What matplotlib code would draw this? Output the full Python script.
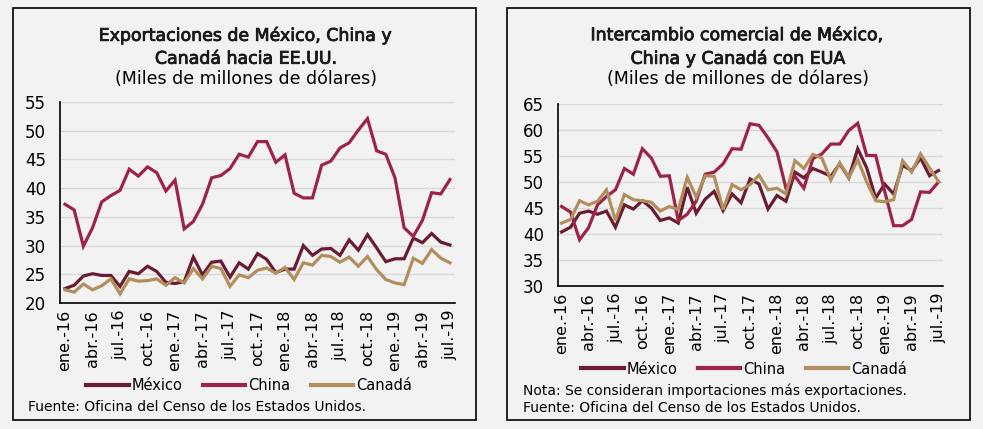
import matplotlib
matplotlib.use('Agg')
import matplotlib.pyplot as plt
import matplotlib.patheffects as pe
from matplotlib.patches import Rectangle

plt.rcParams['font.family'] = ['DejaVu Sans']

# meses ene-2016 .. jul-2019
meses = list(range(43))
etiquetas = ['ene.-16', 'abr.-16', 'jul.-16', 'oct.-16', 'ene.-17', 'abr.-17', 'jul.-17', 'oct.-17',
             'ene.-18', 'abr.-18', 'jul.-18', 'oct.-18', 'ene.-19', 'abr.-19', 'jul.-19']

# Exportaciones hacia EE.UU.
exp_mexico = [22.5, 23.1, 24.7, 25.1, 24.8, 24.8, 22.9, 25.5, 25.1, 26.4, 25.5, 23.6, 23.4, 23.7,
              28.0, 24.9, 27.1, 27.3, 24.5, 27.0, 25.9, 28.6, 27.6, 25.3, 25.9, 25.9, 30.0, 28.3,
              29.4, 29.5, 28.3, 31.0, 29.2, 31.9, 29.6, 27.2, 27.7, 27.7, 31.3, 30.5, 32.1, 30.6, 30.1]
exp_china = [37.2, 36.2, 29.9, 33.1, 37.6, 38.7, 39.6, 43.3, 42.1, 43.7, 42.7, 39.5, 41.4, 32.9,
             34.2, 37.2, 41.8, 42.2, 43.4, 45.9, 45.4, 48.1, 48.1, 44.5, 45.8, 39.1, 38.3, 38.3,
             44.0, 44.7, 47.0, 47.9, 50.1, 52.1, 46.5, 45.9, 41.8, 33.1, 31.6, 34.4, 39.2, 39.0, 41.5]
exp_canada = [22.3, 21.9, 23.3, 22.3, 23.0, 24.2, 21.6, 24.2, 23.8, 23.9, 24.2, 23.1, 24.4, 23.5,
              26.0, 24.2, 26.4, 26.0, 22.9, 24.9, 24.4, 25.7, 26.1, 25.2, 26.2, 24.1, 27.0, 26.6,
              28.3, 28.1, 27.1, 28.0, 26.4, 28.1, 25.8, 24.1, 23.5, 23.2, 27.8, 26.9, 29.3, 27.8, 27.0]

# Intercambio comercial con EUA
int_mexico = [40.4, 41.3, 44.0, 44.4, 43.8, 44.4, 41.3, 45.6, 44.8, 46.4, 45.0, 42.6, 43.1, 42.1,
              49.0, 44.0, 46.7, 48.2, 44.5, 47.7, 46.0, 50.6, 49.6, 44.8, 47.4, 46.3, 51.9, 50.8,
              52.6, 51.9, 51.1, 53.5, 50.8, 56.4, 52.7, 46.9, 49.6, 47.7, 53.2, 52.2, 54.6, 51.2, 52.2]
int_china = [45.3, 44.2, 38.9, 41.2, 45.6, 47.2, 48.5, 52.6, 51.5, 56.4, 54.6, 51.1, 51.2, 42.6,
             43.8, 46.3, 51.5, 51.9, 53.5, 56.4, 56.3, 61.2, 60.9, 58.5, 55.8, 48.8, 51.1, 48.8,
             54.5, 55.4, 57.3, 57.3, 59.9, 61.3, 55.1, 55.1, 48.2, 41.6, 41.6, 42.8, 48.1, 48.0, 50.0]
int_canada = [42.1, 42.8, 46.4, 45.6, 46.3, 48.5, 42.6, 47.6, 46.6, 46.4, 46.1, 44.4, 45.3, 44.7,
              50.9, 47.1, 51.2, 51.1, 44.7, 49.5, 48.5, 49.5, 51.3, 48.5, 48.8, 47.7, 54.1, 52.6,
              55.3, 54.6, 50.4, 53.7, 50.8, 54.3, 50.0, 46.4, 46.2, 46.6, 54.1, 51.9, 55.4, 52.7, 50.1]

c_mex = '#691C32'
c_chn = '#9D2449'
c_can = '#B38E5D'
fondo = '#F2F2F2'

W, H = 983, 429
fig = plt.figure(figsize=(W / 100, H / 100), dpi=100, facecolor=fondo)


def px(x0, y0, x1, y1):
    return [x0 / W, 1 - y1 / H, (x1 - x0) / W, (y1 - y0) / H]


# marcos de los paneles
for x0, x1 in [(13, 476), (507, 970)]:
    fig.patches.append(Rectangle((x0 / W, 1 - 420 / H), (x1 - x0) / W, 412 / H,
                                 transform=fig.transFigure, fill=False, ec='black', lw=1.2))


def panel(ax, series, ylim, step, xlim):
    for vals, col in series:
        ax.plot(meses, vals, color=col, lw=2.3, solid_joinstyle='miter')
    ax.set_facecolor(fondo)
    ax.set_xlim(*xlim)
    ax.set_ylim(*ylim)
    ax.set_yticks(range(ylim[0], ylim[1] + 1, step))
    ax.set_xticks(meses[::3])
    ax.set_xticklabels(etiquetas, rotation=90)
    ax.tick_params(axis='y', length=0, labelsize=12, pad=10)
    ax.tick_params(axis='x', length=0, labelsize=11.5, pad=5)
    ax.grid(axis='y', color='#D9D9D9', lw=1)
    ax.set_axisbelow(True)
    for s in ['top', 'right']:
        ax.spines[s].set_visible(False)
    for s in ['left', 'bottom']:
        ax.spines[s].set_color('black')
        ax.spines[s].set_linewidth(1.2)


ax1 = fig.add_axes(px(60, 102, 455, 303))
panel(ax1, [(exp_mexico, c_mex), (exp_china, c_chn), (exp_canada, c_can)], (20, 55), 5, (-0.55, 42.55))

ax2 = fig.add_axes(px(558, 104, 943, 286))
panel(ax2, [(int_mexico, c_mex), (int_china, c_chn), (int_canada, c_can)], (30, 65), 5, (-0.4, 42.5))

# titulos (peso medio simulado con un trazo fino)
medio = [pe.withStroke(linewidth=0.6, foreground='#1a1a1a')]
fig.text(246 / W, 1 - 47 / H, 'Exportaciones de México, China y\nCanadá hacia EE.UU.', ha='center',
         va='center', fontsize=12.5, linespacing=1.35, color='#1a1a1a', path_effects=medio)
fig.text(246 / W, 1 - 79 / H, '(Miles de millones de dólares)', ha='center', va='center', fontsize=12.5)
fig.text(738 / W, 1 - 47 / H, 'Intercambio comercial de México,\nChina y Canadá con EUA', ha='center',
         va='center', fontsize=12.5, linespacing=1.35, color='#1a1a1a', path_effects=medio)
fig.text(738 / W, 1 - 79 / H, '(Miles de millones de dólares)', ha='center', va='center', fontsize=12.5)

# leyendas
nombres = ['México', 'China', 'Canadá']
for ax, cx, cy in [(ax1, 249, 386), (ax2, 744, 369)]:
    fig.legend(ax.get_lines(), nombres, loc='center', bbox_to_anchor=(cx / W, 1 - cy / H), ncol=3,
               frameon=False, fontsize=10.5, handlelength=2.9, handletextpad=0.2, columnspacing=1.4,
               borderaxespad=0)
for leg in fig.legends:
    for ln in leg.get_lines():
        ln.set_linewidth(3)

# notas
fig.text(28 / W, 1 - 407 / H, 'Fuente: Oficina del Censo de los Estados Unidos.', ha='left', va='center',
         fontsize=10)
fig.text(523 / W, 1 - 391 / H, 'Nota: Se consideran importaciones más exportaciones.', ha='left',
         va='center', fontsize=10)
fig.text(523 / W, 1 - 408 / H, 'Fuente: Oficina del Censo de los Estados Unidos.', ha='left', va='center',
         fontsize=10)

fig.savefig('out.png', dpi=100, facecolor=fondo)
